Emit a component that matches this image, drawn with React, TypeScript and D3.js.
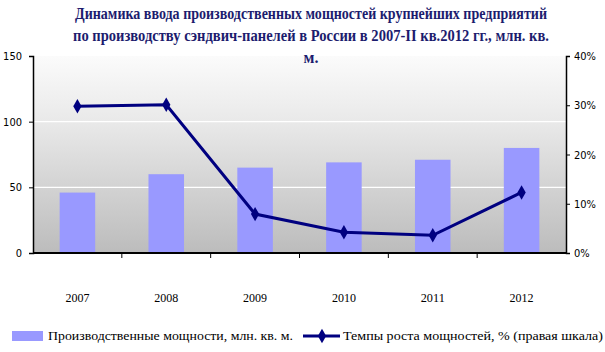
import React, { useEffect, useRef } from "react";
import * as d3 from "d3";

const years = ["2007", "2008", "2009", "2010", "2011", "2012"];
const capacity = [46, 60, 65, 69, 71, 80];
const growth = [29.8, 30.1, 7.9, 4.2, 3.6, 12.3];
const leftTicks = [0, 50, 100, 150];
const rightTicks = [0, 10, 20, 30, 40];
const titleLines = [
  "Динамика ввода производственных мощностей крупнейших предприятий",
  "по производству сэндвич-панелей в России в 2007-II кв.2012 гг., млн. кв.",
  "м.",
];
const legendBar = "Производственные мощности, млн. кв. м.";
const legendLine = "Темпы роста мощностей, % (правая шкала)";

const App = () => {
  const ref = useRef<SVGSVGElement>(null);

  useEffect(() => {
    const svg = d3.select(ref.current);
    svg.selectAll("*").remove();

    const left = 33, right = 566, top = 56, bottom = 253;

    // background gradient of plot area
    const defs = svg.append("defs");
    const grad = defs.append("linearGradient")
      .attr("id", "plotBg").attr("x1", 0).attr("y1", 0).attr("x2", 0).attr("y2", 1);
    grad.append("stop").attr("offset", "0%").attr("stop-color", "#fbfbfb");
    grad.append("stop").attr("offset", "35%").attr("stop-color", "#e8e8e8");
    grad.append("stop").attr("offset", "100%").attr("stop-color", "#bcbcbc");

    svg.append("rect")
      .attr("x", left).attr("y", top)
      .attr("width", right - left).attr("height", bottom - top)
      .attr("fill", "url(#plotBg)");

    const x = d3.scaleBand().domain(years).range([left, right]).paddingInner(0.6).paddingOuter(0.3);
    const xc = d3.scaleBand().domain(years).range([left, right]);
    const y = d3.scaleLinear().domain([0, 150]).range([bottom, top]);
    const y2 = d3.scaleLinear().domain([0, 40]).range([bottom, top]);

    // gridlines
    svg.append("g")
      .selectAll("line")
      .data(leftTicks.filter(d => d > 0 && d < 150))
      .enter()
      .append("line")
      .attr("x1", left).attr("x2", right)
      .attr("y1", d => y(d)).attr("y2", d => y(d))
      .attr("stroke", "#ffffff").attr("stroke-width", 1.2);

    // bars
    svg.append("g")
      .selectAll("rect")
      .data(capacity)
      .enter()
      .append("rect")
      .attr("x", (d, i) => x(years[i])!)
      .attr("y", d => y(d))
      .attr("width", x.bandwidth())
      .attr("height", d => bottom - y(d))
      .attr("fill", "#9999ff");

    // left axis
    const la = svg.append("g")
      .attr("transform", `translate(${left},0)`)
      .call(d3.axisLeft(y).tickValues(leftTicks).tickSize(4).tickPadding(7));
    la.select(".domain").attr("stroke", "#000").attr("stroke-width", 1.5);
    la.selectAll("text").attr("font-family", "DejaVu Sans Condensed, sans-serif").attr("font-size", 11).attr("fill", "#000");

    // right axis
    const ra = svg.append("g")
      .attr("transform", `translate(${right},0)`)
      .call(d3.axisRight(y2).tickValues(rightTicks).tickSize(4).tickPadding(4).tickFormat(d => d + "%"));
    ra.select(".domain").attr("stroke", "#000").attr("stroke-width", 1.5);
    ra.selectAll("text").attr("font-family", "DejaVu Sans Condensed, sans-serif").attr("font-size", 11).attr("fill", "#000");

    // bottom axis
    const ba = svg.append("g").attr("transform", `translate(0,${bottom})`);
    ba.append("line").attr("x1", left).attr("x2", right).attr("stroke", "#000").attr("stroke-width", 2);
    ba.selectAll("line.tick")
      .data(years.slice(1))
      .enter()
      .append("line")
      .attr("class", "tick")
      .attr("x1", d => xc(d)!).attr("x2", d => xc(d)!)
      .attr("y1", 0).attr("y2", 5)
      .attr("stroke", "#000").attr("stroke-width", 1);
    svg.append("g")
      .selectAll("text")
      .data(years)
      .enter()
      .append("text")
      .attr("x", d => xc(d)! + xc.bandwidth() / 2)
      .attr("y", 302)
      .attr("text-anchor", "middle")
      .attr("font-family", "Liberation Serif, serif")
      .attr("font-size", 12)
      .attr("textLength", 24)
      .attr("lengthAdjust", "spacingAndGlyphs")
      .text(d => d);

    // growth line
    const cx = (i: number) => xc(years[i])! + xc.bandwidth() / 2;
    svg.append("path")
      .datum(growth)
      .attr("fill", "none")
      .attr("stroke", "#000080")
      .attr("stroke-width", 3)
      .attr("d", d3.line<number>().x((d, i) => cx(i)).y(d => y2(d)));

    const diamond = d3.symbol().type(d3.symbolDiamond).size(60);
    svg.append("g")
      .selectAll("path")
      .data(growth)
      .enter()
      .append("path")
      .attr("d", diamond)
      .attr("transform", (d, i) => `translate(${cx(i)},${y2(d)})`)
      .attr("fill", "#000080");

    // title (horizontally squeezed like the original)
    const sx = 0.8;
    const titleWidths = [472, 476, 15];
    const titleY = [19, 41, 63];
    svg.append("g")
      .attr("transform", `translate(311,0) scale(${sx},1)`)
      .selectAll("text")
      .data(titleLines)
      .enter()
      .append("text")
      .attr("x", 0)
      .attr("y", (d, i) => titleY[i])
      .attr("text-anchor", "middle")
      .attr("font-family", "Liberation Serif, serif")
      .attr("font-weight", "bold")
      .attr("font-size", 17)
      .attr("fill", "#1c1c6e")
      .attr("textLength", (d, i) => titleWidths[i] / sx)
      .attr("lengthAdjust", "spacingAndGlyphs")
      .text(d => d);

    // legend
    const lg = svg.append("g");
    lg.append("rect").attr("x", 12).attr("y", 331).attr("width", 31).attr("height", 10).attr("fill", "#9999ff");
    lg.append("text")
      .attr("x", 48).attr("y", 340)
      .attr("font-family", "Liberation Serif, serif").attr("font-size", 13.5)
      .attr("textLength", 245).attr("lengthAdjust", "spacingAndGlyphs")
      .text(legendBar);
    lg.append("line").attr("x1", 303).attr("x2", 340).attr("y1", 336).attr("y2", 336)
      .attr("stroke", "#000080").attr("stroke-width", 3);
    lg.append("path").attr("d", diamond).attr("transform", "translate(322,336)").attr("fill", "#000080");
    lg.append("text")
      .attr("x", 343).attr("y", 340)
      .attr("font-family", "Liberation Serif, serif").attr("font-size", 13.5)
      .attr("textLength", 260).attr("lengthAdjust", "spacingAndGlyphs")
      .text(legendLine);
  }, []);

  return (
    <svg ref={ref} width={605} height={352}
      style={{ position: "absolute", left: 0, top: 0, background: "#fff" }} />
  );
};

export default App;
